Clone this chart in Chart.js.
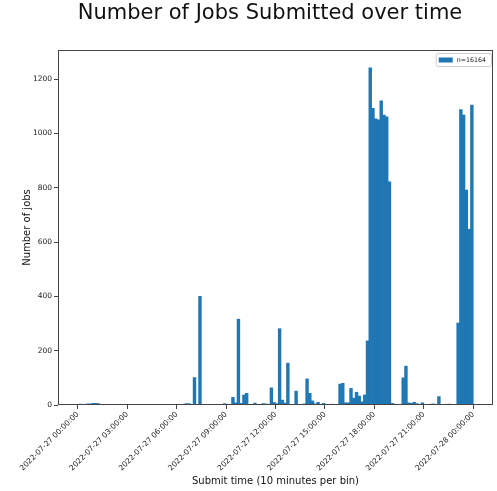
<!DOCTYPE html>
<html>
<head>
<meta charset="utf-8">
<script src="https://cdn.jsdelivr.net/npm/chart.js@4.4.0/dist/chart.umd.min.js"></script>
<style>
  html, body { margin: 0; padding: 0; background: #fff; }
  #wrap { width: 497px; height: 491px; position: relative; }
</style>
</head>
<body>
<div id="wrap"><canvas id="c"></canvas></div>
<script>
// ---------- DATA ----------
const chartTitle = "Number of Jobs Submitted over time";
const legendLabel = "n=16164";
const xTitle = "Submit time (10 minutes per bin)";
const yTitle = "Number of jobs";
const binMinutes = 10;

// jobs per 10-minute bin, first bin starts 2022-07-27 00:00
const jobCounts = [
  3, 3, 2, 4, 4, 6, 6, 5, 0, 0,            // 00:00
  0, 0, 0, 0, 0, 0, 0, 0, 0, 0,
  0, 0, 0, 0, 0, 0, 0, 0, 0, 0,
  0, 0, 0, 0, 0, 0, 2, 2, 3, 5,            // 05:00
  5, 0, 101, 0, 400, 0, 0, 0, 0, 0,
  0, 0, 0, 5, 0, 0, 28, 8, 316, 6,
  37, 43, 0, 0, 7, 2, 0, 5, 4, 0,          // 10:00
  63, 9, 5, 281, 18, 7, 154, 0, 0, 51,
  0, 0, 4, 96, 43, 15, 4, 10, 2, 6,
  2, 2, 3, 0, 2, 77, 80, 8, 8, 61,         // 15:00
  25, 47, 33, 12, 37, 236, 1241, 1092, 1054, 1050,
  1120, 1067, 1061, 822, 6, 3, 2, 0, 100, 143,
  8, 6, 10, 5, 0, 8, 2, 0, 3, 4,           // 20:00
  0, 31, 0, 0, 3, 3, 0, 0, 302, 1088,
  1067, 791, 647, 1104
];

const xTickMinutes = [0, 180, 360, 540, 720, 900, 1080, 1260, 1440];
const xTickLabels = [
  "2022-07-27 00:00:00", "2022-07-27 03:00:00", "2022-07-27 06:00:00",
  "2022-07-27 09:00:00", "2022-07-27 12:00:00", "2022-07-27 15:00:00",
  "2022-07-27 18:00:00", "2022-07-27 21:00:00", "2022-07-28 00:00:00"
];
const yTickValues = [0, 200, 400, 600, 800, 1000, 1200];

// ---------- PLUGINS ----------
const BLUE = "#1f77b4";
const AXIS = "#444";

const frame = {
  id: "frame",
  afterDraw(chart) {
    const { ctx, chartArea: a } = chart;
    ctx.save();
    ctx.strokeStyle = AXIS;
    ctx.lineWidth = 1;
    ctx.strokeRect(a.left + 0.5, a.top + 0.5, a.width - 1, a.height - 1);

    // legend box, upper right
    const ds = chart.data.datasets[0];
    ctx.font = "6.3px 'DejaVu Sans'";
    const tw = ctx.measureText(ds.label).width;
    const bw = tw + 26, bh = 13;
    const bx = a.right - bw - 2, by = a.top + 3;
    ctx.fillStyle = "rgba(255,255,255,0.8)";
    ctx.strokeStyle = "#ccc";
    ctx.beginPath();
    ctx.roundRect(bx + 0.5, by + 0.5, bw, bh, 2);
    ctx.fill();
    ctx.stroke();
    ctx.fillStyle = ds.backgroundColor;
    ctx.fillRect(bx + 3, by + 4.5, 14, 5);
    ctx.fillStyle = "#222";
    ctx.textBaseline = "middle";
    ctx.fillText(ds.label, bx + 21, by + bh / 2 + 0.5);

    // figure title
    ctx.font = "21px 'DejaVu Sans'";
    ctx.fillStyle = "#111";
    ctx.textAlign = "center";
    ctx.textBaseline = "alphabetic";
    ctx.fillText(chartTitle, 270, 19);
    ctx.restore();
  }
};

// ---------- CHART ----------
const points = jobCounts.map((c, i) => ({ x: i * binMinutes + binMinutes / 2, y: c }));

new Chart(document.getElementById("c"), {
  type: "bar",
  data: {
    datasets: [{
      label: legendLabel,
      data: points,
      backgroundColor: BLUE,
      borderWidth: 0,
      barPercentage: 1,
      categoryPercentage: 1
    }]
  },
  options: {
    responsive: true,
    maintainAspectRatio: false,
    animation: false,
    layout: { padding: { top: 50, right: 4, left: 0, bottom: 0 } },
    plugins: {
      legend: { display: false },
      tooltip: { enabled: false }
    },
    scales: {
      x: {
        type: "linear",
        offset: false,
        min: -72,
        max: 1512,
        afterBuildTicks: (s) => { s.ticks = xTickMinutes.map(v => ({ value: v })); },
        afterFit: (s) => { s.height = 86; },
        grid: { offset: false, drawOnChartArea: false, drawTicks: true, tickLength: 4, tickColor: AXIS },
        border: { display: false },
        ticks: {
          autoSkip: false,
          minRotation: 45,
          maxRotation: 45,
          padding: 1,
          color: "#222",
          font: { family: "DejaVu Sans", size: 7.5 },
          callback: (v, i) => xTickLabels[i]
        },
        title: {
          display: true,
          text: xTitle,
          color: "#111",
          font: { family: "DejaVu Sans", size: 10 },
          padding: { top: 0, bottom: 4 }
        }
      },
      y: {
        min: 0,
        max: 1307,
        afterBuildTicks: (s) => { s.ticks = yTickValues.map(v => ({ value: v })); },
        afterFit: (s) => { s.width = 58; },
        grid: { drawOnChartArea: false, drawTicks: true, tickLength: 4, tickColor: AXIS },
        border: { display: false },
        ticks: {
          padding: 2,
          color: "#222",
          font: { family: "DejaVu Sans", size: 7.5 },
          callback: (v) => String(v)
        },
        title: {
          display: true,
          text: yTitle,
          color: "#111",
          font: { family: "DejaVu Sans", size: 10 },
          padding: { top: 21, bottom: 0 }
        }
      }
    }
  },
  plugins: [frame]
});
</script>
</body>
</html>
